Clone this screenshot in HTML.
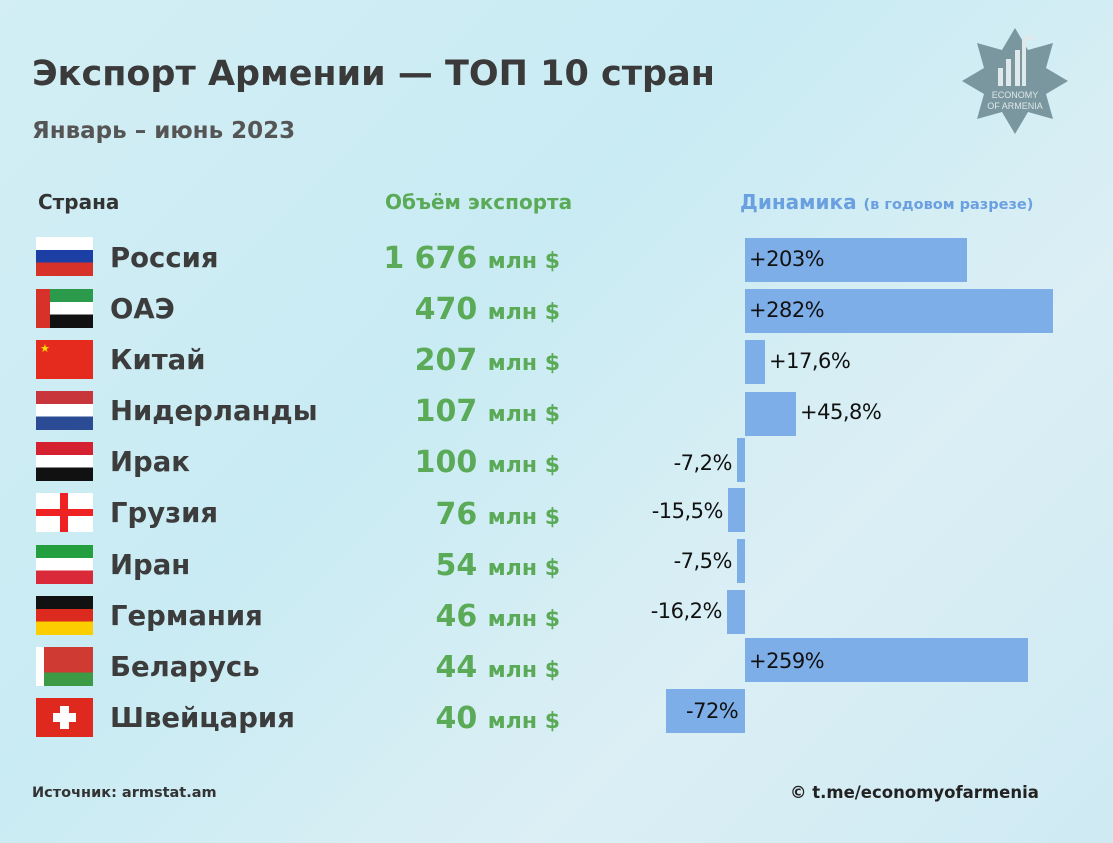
<!DOCTYPE html>
<html><head><meta charset="utf-8"><style>
body{margin:0;width:1113px;height:843px;overflow:hidden;font-family:"DejaVu Sans","Liberation Sans",sans-serif;background:linear-gradient(135deg,#d3eef5 0%,#c9ebf3 40%,#dbeff5 70%,#cfeaf3 100%);position:relative;color:#3c3c3c}
.a{position:absolute;white-space:nowrap}
.t{font-weight:bold}
.flag{position:absolute;left:36px;width:57px;height:39px;overflow:hidden}
.name{left:110px;font-size:27.5px;font-weight:bold;color:#3c3c3c}
.amt{right:553px;font-weight:bold;color:#5aaa58;font-size:30px;top:2px}
.amt span{font-size:22px}
.bar{position:absolute;background:#7eaee8;height:44px}
.pct{font-size:21px;color:#111;letter-spacing:-0.5px}
</style></head><body>
<div class="a t" style="left:32px;top:54px;font-size:35px;color:#3a3a3a">Экспорт Армении — ТОП 10 стран</div>
<div class="a t" style="left:32px;top:118px;font-size:23px;color:#555">Январь – июнь 2023</div>
<svg class="a" style="left:960px;top:26px" width="110" height="110" viewBox="0 0 110 110">
<polygon points="55,2 68,24 93,17 86,42 108,55 86,68 93,93 68,86 55,108 42,86 17,93 24,68 2,55 24,42 17,17 42,24" fill="#7a969f"/>
<rect x="38" y="42" width="5" height="18" fill="#dfe8ea"/><rect x="46" y="33" width="5" height="27" fill="#dfe8ea"/><rect x="55" y="24" width="5" height="36" fill="#dfe8ea"/><path d="M64 60V14a6 6 0 0 1 10 0" stroke="#dfe8ea" stroke-width="4" fill="none"/>
<text x="55" y="72" font-size="9" fill="#dfe8ea" text-anchor="middle" font-family="Liberation Sans">ECONOMY</text>
<text x="55" y="83" font-size="9" fill="#dfe8ea" text-anchor="middle" font-family="Liberation Sans">OF ARMENIA</text></svg>
<div class="a t" style="left:38px;top:190px;font-size:20px;color:#333">Страна</div>
<div class="a t" style="left:385px;top:190px;font-size:20px;color:#5aaa58">Объём экспорта</div>
<div class="a t" style="left:740px;top:190px;font-size:20px;color:#6a9fe0">Динамика <span style="font-size:14.5px">(в годовом разрезе)</span></div>

<div class="flag" style="top:237px;background:linear-gradient(#fff 33%,#1c3fa6 33% 66%,#d6322a 66%)"></div>
<div class="flag" style="top:289px;background:linear-gradient(#2c9a4b 33%,#fff 33% 66%,#111 66%)"><div style="position:absolute;left:0;top:0;width:14px;height:39px;background:#d6322a"></div></div>
<div class="flag" style="top:340px;background:#e52b1e;color:#ffde00;font-size:11px;padding:2px 4px;box-sizing:border-box">★</div>
<div class="flag" style="top:391px;background:linear-gradient(#c8353a 33%,#fff 33% 66%,#2b4c95 66%)"></div>
<div class="flag" style="top:442px;background:linear-gradient(#d4202f 33%,#fff 33% 66%,#111 66%)"></div>
<div class="flag" style="top:493px;background:#fff"><div style="position:absolute;left:24px;top:0;width:8px;height:39px;background:#e22"></div><div style="position:absolute;left:0;top:16px;width:57px;height:7px;background:#e22"></div></div>
<div class="flag" style="top:545px;background:linear-gradient(#239f40 33%,#fff 33% 66%,#da2a3a 66%)"></div>
<div class="flag" style="top:596px;background:linear-gradient(#111 33%,#dd2a1e 33% 66%,#fcce00 66%)"></div>
<div class="flag" style="top:647px;background:linear-gradient(#cf3b32 66%,#3c9a45 66%)"><div style="position:absolute;left:0;top:0;width:8px;height:39px;background:#fff"></div></div>
<div class="flag" style="top:698px;background:#e0291e"><div style="position:absolute;left:24px;top:8px;width:9px;height:23px;background:#fff"></div><div style="position:absolute;left:17px;top:15px;width:23px;height:9px;background:#fff"></div></div>

<div class="a name" style="top:242px">Россия</div>
<div class="a name" style="top:293px">ОАЭ</div>
<div class="a name" style="top:344px">Китай</div>
<div class="a name" style="top:395px">Нидерланды</div>
<div class="a name" style="top:446px">Ирак</div>
<div class="a name" style="top:497px">Грузия</div>
<div class="a name" style="top:549px">Иран</div>
<div class="a name" style="top:600px">Германия</div>
<div class="a name" style="top:651px">Беларусь</div>
<div class="a name" style="top:702px">Швейцария</div>

<div class="a amt" style="top:241px">1 676 <span>млн $</span></div>
<div class="a amt" style="top:292px">470 <span>млн $</span></div>
<div class="a amt" style="top:343px">207 <span>млн $</span></div>
<div class="a amt" style="top:394px">107 <span>млн $</span></div>
<div class="a amt" style="top:445px">100 <span>млн $</span></div>
<div class="a amt" style="top:497px">76 <span>млн $</span></div>
<div class="a amt" style="top:548px">54 <span>млн $</span></div>
<div class="a amt" style="top:599px">46 <span>млн $</span></div>
<div class="a amt" style="top:650px">44 <span>млн $</span></div>
<div class="a amt" style="top:701px">40 <span>млн $</span></div>

<div class="bar" style="left:745px;width:222px;top:238px"></div><div class="a pct" style="left:749px;top:247px">+203%</div>
<div class="bar" style="left:745px;width:308px;top:289px"></div><div class="a pct" style="left:749px;top:298px">+282%</div>
<div class="bar" style="left:745px;width:20px;top:340px"></div><div class="a pct" style="left:769px;top:349px">+17,6%</div>
<div class="bar" style="left:745px;width:51px;top:392px"></div><div class="a pct" style="left:800px;top:400px">+45,8%</div>
<div class="bar" style="left:737px;width:8px;top:438px"></div><div class="a pct" style="right:381px;top:451px">-7,2%</div>
<div class="bar" style="left:728px;width:17px;top:488px"></div><div class="a pct" style="right:390px;top:499px">-15,5%</div>
<div class="bar" style="left:737px;width:8px;top:539px"></div><div class="a pct" style="right:381px;top:549px">-7,5%</div>
<div class="bar" style="left:727px;width:18px;top:590px"></div><div class="a pct" style="right:391px;top:599px">-16,2%</div>
<div class="bar" style="left:745px;width:283px;top:638px"></div><div class="a pct" style="left:749px;top:649px">+259%</div>
<div class="bar" style="left:666px;width:79px;top:689px"></div><div class="a pct" style="left:686px;top:699px">-72%</div>

<div class="a t" style="left:32px;top:785px;font-size:14.5px;color:#333">Источник: armstat.am</div>
<div class="a t" style="left:790px;top:783px;font-size:16.5px;color:#222">© t.me/economyofarmenia</div>
</body></html>
